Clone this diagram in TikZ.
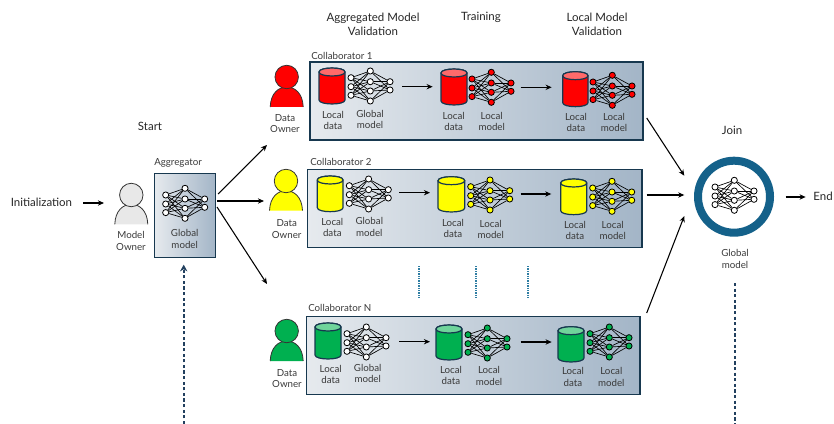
\documentclass[tikz,border=0pt]{standalone}
\usepackage{fontspec}
\setmainfont{Lato}
\usetikzlibrary{arrows.meta,fit,positioning}
\definecolor{edgeblue}{HTML}{17384F}
\definecolor{ringblue}{HTML}{14618A}
\definecolor{dashblue}{HTML}{22405F}
\definecolor{dotblue}{HTML}{2F7EA3}
\definecolor{shadeL}{HTML}{E6EAEE}
\definecolor{shadeR}{HTML}{A3B5C7}
\definecolor{txtgrey}{HTML}{3A3A3A}
\definecolor{pred}{HTML}{FF0000}
\definecolor{predtop}{HTML}{FF6A6A}
\definecolor{pyel}{HTML}{FFFF00}
\definecolor{pgrn}{HTML}{00B050}
\definecolor{pgrntop}{HTML}{6FD49B}
\definecolor{pgrey}{HTML}{E8E8E8}
\tikzset{
  x=0.75pt,y=-0.75pt,
  small/.style={font=\fontsize{7.3}{8.6}\selectfont,text=txtgrey,align=center,inner sep=0pt},
  big/.style={font=\fontsize{8.6}{10.8}\selectfont,text=black!85,align=center,inner sep=0pt},
  collabel/.style={font=\fontsize{7.3}{8.6}\selectfont,text=txtgrey,anchor=west,inner sep=0pt},
  box/.style={draw=edgeblue,line width=0.95pt,left color=shadeL,right color=shadeR,inner sep=0pt},
  neuron/.style={circle,draw=black,line width=0.6pt,inner sep=0pt,minimum size=4.6pt},
  synapse/.style={draw=black,line width=0.5pt},
  flow/.style={draw=black,line width=0.8pt,-{Stealth[length=4.6pt,width=4pt]}},
  dash line/.style={draw=dashblue,line width=1.3pt,dash pattern=on 2.4pt off 1.8pt},
  dot line/.style={draw=dotblue,line width=1.3pt,dash pattern=on 1pt off 0.8pt},
}
% prefix, x, y, neuron fill
\newcommand{\nnet}[4]{%
  \foreach \i/\dy in {1/0,2/9,3/17.6}
    \node[neuron,fill=#4] (#1l\i) at ({#2},{#3+\dy}) {};
  \foreach \i/\dy in {1/-6.7,2/4,3/13.3,4/23.3}
    \node[neuron,fill=#4] (#1m\i) at ({#2+19.3},{#3+\dy}) {};
  \foreach \i/\dy in {1/4,2/12.3}
    \node[neuron,fill=#4] (#1r\i) at ({#2+39},{#3+\dy}) {};
  \foreach \a in {1,2,3} \foreach \b in {1,2,3,4}
    \draw[synapse] (#1l\a) -- (#1m\b);
  \foreach \a in {1,2,3,4} \foreach \b in {1,2}
    \draw[synapse] (#1m\a) -- (#1r\b);
}
% x1,x2,y1,y2,body,top
\newcommand{\cyl}[6]{%
  \draw[draw=edgeblue,line width=0.9pt,fill=#5]
    ({#1},{#3+4}) -- ({#1},{#4-4}) .. controls ({#1},{#4+1.3}) and ({#2},{#4+1.3}) .. ({#2},{#4-4})
    -- ({#2},{#3+4}) .. controls ({#2},{#3-1.3}) and ({#1},{#3-1.3}) .. cycle;
  \draw[draw=edgeblue,line width=0.9pt,fill=#6]
    ({#1},{#3+4}) .. controls ({#1},{#3+9.3}) and ({#2},{#3+9.3}) .. ({#2},{#3+4})
    .. controls ({#2},{#3-1.3}) and ({#1},{#3-1.3}) .. cycle;
}
% name,cx,heady,bottom,fill
\newcommand{\person}[5]{%
  \fill[#5] ({#2-16.5},{#4}) .. controls ({#2-16},{#4-14}) and ({#2-8},{#4-20}) .. ({#2},{#4-20})
    .. controls ({#2+8},{#4-20}) and ({#2+16},{#4-14}) .. ({#2+16.5},{#4}) -- cycle;
  \draw[draw=black!80,line width=0.6pt] ({#2-16.5},{#4}) .. controls ({#2-16},{#4-14}) and ({#2-8},{#4-20}) .. ({#2},{#4-20})
    .. controls ({#2+8},{#4-20}) and ({#2+16},{#4-14}) .. ({#2+16.5},{#4});
  \node[circle,draw=black!80,line width=0.6pt,fill=#5,minimum size=17.6pt,inner sep=0pt] (#1) at ({#2},{#3}) {};
}
\begin{document}
\begin{tikzpicture}
\useasboundingbox (0,0) rectangle (834,424);

% headers
\node[big] (hA) at (373,24.5) {Aggregated Model\\Validation};
\node[big] (hT) at (481,17.3) {Training};
\node[big] (hL) at (597,24.5) {Local Model\\Validation};
\node[big] (hS) at (150,126) {Start};
\node[big] (hJ) at (732,130) {Join};
\node[big] (init) at (41.5,202) {Initialization};
\node[big] (endn) at (823,196.5) {End};

% aggregator
\node[box,fit={(154.3,173.3)(215.7,257.7)}] (agg) {};
\node[collabel] (aggl) at (154,163) {Aggregator};
\nnet{ag}{165.7}{195}{white}
\node[small] (agt) at (184.7,239) {Global\\model};

% model owner
\person{mo}{131.3}{195}{224.3}{pgrey}
\node[small] (mot) at (131,241) {Model\\Owner};

% collaborator 1
\node[box,fit={(310,62)(643,140)}] (c1) {};
\node[collabel] (c1l) at (311,55.7) {Collaborator 1};
\person{p1}{286.7}{77}{107}{pred}
\node[small] (p1t) at (285,123.3) {Data\\Owner};
\cyl{319}{345}{68}{104}{pred}{predtop}
\nnet{a1}{351}{77.7}{white}
\node[small] (a1d) at (333,120.2) {Local\\data};
\node[small] (a1m) at (370,119.4) {Global\\model};
\cyl{441}{467}{69}{105}{pred}{predtop}
\nnet{b1}{472}{79}{pred}
\node[small] (b1d) at (453.7,121.4) {Local\\data};
\node[small] (b1m) at (491.7,121.5) {Local\\model};
\cyl{562.7}{588}{71.7}{106.7}{pred}{predtop}
\nnet{d1}{593}{82}{pred}
\node[small] (d1d) at (576,122.7) {Local\\data};
\node[small] (d1m) at (614,122.7) {Local\\model};

% collaborator 2
\node[box,fit={(307.7,169.3)(642,247.7)}] (c2) {};
\node[collabel] (c2l) at (310,161.7) {Collaborator 2};
\person{p2}{286}{181}{210.7}{pyel}
\node[small] (p2t) at (286.7,229.2) {Data\\Owner};
\cyl{317.3}{343}{176}{211.7}{pyel}{pyel}
\nnet{a2}{349.3}{185.7}{white}
\node[small] (a2d) at (332.3,227.2) {Local\\data};
\node[small] (a2m) at (369.3,226.9) {Global\\model};
\cyl{438}{464.7}{176.7}{212}{pyel}{pyel}
\nnet{b2}{470.7}{186.7}{pyel}
\node[small] (b2d) at (453,228.5) {Local\\data};
\node[small] (b2m) at (490.7,229.3) {Local\\model};
\cyl{560.7}{586.7}{179}{214.7}{pyel}{pyel}
\nnet{d2}{592.7}{188}{pyel}
\node[small] (d2d) at (575,230.2) {Local\\data};
\node[small] (d2m) at (612.7,230.2) {Local\\model};

% collaborator N
\node[box,fit={(306.7,316.7)(640,394.3)}] (c3) {};
\node[collabel] (c3l) at (308,308) {Collaborator N};
\person{p3}{286.7}{331}{361}{pgrn}
\node[small] (p3t) at (287,378.7) {Data\\Owner};
\cyl{315}{341}{323}{359}{pgrn}{pgrntop}
\nnet{a3}{347}{333.7}{white}
\node[small] (a3d) at (330.7,374.2) {Local\\data};
\node[small] (a3m) at (367.7,373.5) {Global\\model};
\cyl{436}{462}{325}{360}{pgrn}{pgrntop}
\nnet{b3}{468}{334.7}{pgrn}
\node[small] (b3d) at (451,375.5) {Local\\data};
\node[small] (b3m) at (489,375.8) {Local\\model};
\cyl{558}{584}{326.7}{362}{pgrn}{pgrntop}
\nnet{d3}{590}{333.7}{pgrn}
\node[small] (d3d) at (573,376.8) {Local\\data};
\node[small] (d3m) at (611.3,376.8) {Local\\model};

% join
\node[circle,draw=ringblue,line width=6pt,fill=white,minimum size=54pt,inner sep=0pt] (join) at (734,196.7) {};
\nnet{jn}{715}{187}{white}
\node[small] (jnt) at (735,259) {Global\\model};

% free connector ends
\coordinate (i0) at (83,203);   \coordinate (i1) at (104,203);
\coordinate (g1s) at (218,194); \coordinate (g1e) at (267,145);
\coordinate (g2s) at (217,201); \coordinate (g2e) at (264,201);
\coordinate (g3s) at (217,207); \coordinate (g3e) at (267,284);
\coordinate (j1s) at (646.7,118); \coordinate (j1e) at (684.3,175.7);
\coordinate (j2s) at (646.7,195); \coordinate (j2e) at (684.3,195);
\coordinate (j3s) at (646.7,313); \coordinate (j3e) at (684.3,216);
\coordinate (o0) at (785.7,197); \coordinate (o1) at (805.7,197);
\coordinate (k1a) at (402,86.7);  \coordinate (k1b) at (432.7,86.7);
\coordinate (k1c) at (520.7,87.3);\coordinate (k1d) at (551.7,87.3);
\coordinate (k2a) at (399,192.7); \coordinate (k2b) at (430,192.7);
\coordinate (k2c) at (520.7,194); \coordinate (k2d) at (551.3,194);
\coordinate (k3a) at (399,341.7); \coordinate (k3b) at (430,341.7);
\coordinate (k3c) at (520.7,342); \coordinate (k3d) at (551.7,342);
\coordinate (da0) at (183.7,424); \coordinate (da1) at (183.7,264.7);
\coordinate (db0) at (734.7,283); \coordinate (db1) at (734.7,424);
\coordinate (t1) at (419,266);   \coordinate (t1b) at (419,298);
\coordinate (t2) at (476,266);   \coordinate (t2b) at (476,298);
\coordinate (t3) at (527.7,266); \coordinate (t3b) at (527.7,298);

% connectors
\draw[flow] (i0) -- (i1);
\draw[flow] (g1s) -- (g1e);
\draw[flow] (g2s) -- (g2e);
\draw[flow] (g3s) -- (g3e);
\draw[flow] (j1s) -- (j1e);
\draw[flow] (j2s) -- (j2e);
\draw[flow] (j3s) -- (j3e);
\draw[flow] (o0) -- (o1);
\draw[flow] (k1a) -- (k1b);
\draw[flow] (k1c) -- (k1d);
\draw[flow] (k2a) -- (k2b);
\draw[flow] (k2c) -- (k2d);
\draw[flow] (k3a) -- (k3b);
\draw[flow] (k3c) -- (k3d);
\draw[dash line,-{Stealth[length=5pt,width=5.5pt]}] (da0) -- (da1);
\draw[dash line] (db0) -- (db1);
\draw[dot line] (t1) -- (t1b);
\draw[dot line] (t2) -- (t2b);
\draw[dot line] (t3) -- (t3b);
\end{tikzpicture}
\end{document}
